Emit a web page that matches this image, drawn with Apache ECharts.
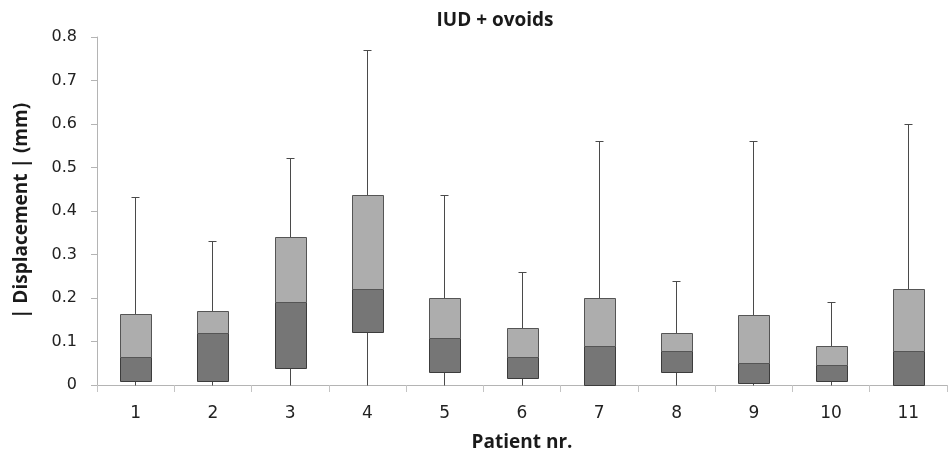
<!DOCTYPE html>
<html>
<head>
<meta charset="utf-8">
<script src="https://cdn.jsdelivr.net/npm/echarts@6/dist/echarts.min.js"></script>
<style>
  html, body { margin: 0; padding: 0; background: #fff; }
  #chart { width: 948px; height: 457px; }
</style>
</head>
<body>
<div id="chart"></div>
<script>
// Displacement summary per patient (mm)
const patients = ['1', '2', '3', '4', '5', '6', '7', '8', '9', '10', '11'];
const whiskerLow = [0, 0, 0, 0, 0, 0, 0, 0, 0, 0, 0];
const quartile1 = [0.008, 0.009, 0.038, 0.120, 0.029, 0.014, 0, 0.029, 0.004, 0.007, 0];
const medians = [0.063, 0.119, 0.189, 0.220, 0.108, 0.063, 0.089, 0.076, 0.049, 0.044, 0.078];
const quartile3 = [0.162, 0.169, 0.338, 0.435, 0.200, 0.129, 0.200, 0.119, 0.159, 0.089, 0.220];
const whiskerHigh = [0.431, 0.329, 0.520, 0.770, 0.435, 0.259, 0.559, 0.239, 0.559, 0.189, 0.600];
const yTicks = ['0', '0.1', '0.2', '0.3', '0.4', '0.5', '0.6', '0.7', '0.8'];

const LABEL_FONT = '"DejaVu Sans", sans-serif';
const HEAD_FONT = '"Open Sans", Lato, sans-serif';
const boxData = patients.map((p, i) => [i, whiskerLow[i], quartile1[i], medians[i], quartile3[i], whiskerHigh[i]]);

const crisp = v => Math.round(v - 0.5) + 0.5;

// Whisker + two-tone box (Q1..median dark, median..Q3 light)
function renderBox(params, api) {
  const i = api.value(0);
  const pLow = api.coord([i, api.value(1)]);
  const pQ1 = api.coord([i, api.value(2)]);
  const pMed = api.coord([i, api.value(3)]);
  const pQ3 = api.coord([i, api.value(4)]);
  const pHigh = api.coord([i, api.value(5)]);
  const bw = api.size([1, 0])[0] * 0.4;
  const cx = crisp(pMed[0]);
  const left = Math.round(cx - bw / 2) + 0.5;
  const right = Math.round(cx + bw / 2) + 0.5;
  const yQ1 = crisp(pQ1[1]), yMed = crisp(pMed[1]), yQ3 = crisp(pQ3[1]);
  const lineStyle = { stroke: '#4a4a4a', lineWidth: 1 };
  return {
    type: 'group',
    children: [
      { type: 'line', shape: { x1: cx, y1: crisp(pLow[1]), x2: cx, y2: crisp(pHigh[1]) }, style: lineStyle },
      { type: 'line', shape: { x1: cx - 4, y1: crisp(pHigh[1]), x2: cx + 4, y2: crisp(pHigh[1]) }, style: lineStyle },
      { type: 'rect', shape: { x: left, y: yMed, width: right - left, height: yQ1 - yMed },
        style: { fill: '#767676', stroke: '#3c3c3c', lineWidth: 1 } },
      { type: 'rect', shape: { x: left, y: yQ3, width: right - left, height: yMed - yQ3 },
        style: { fill: '#adadad', stroke: '#555555', lineWidth: 1 } }
    ]
  };
}

const chart = echarts.init(document.getElementById('chart'), null, { renderer: 'canvas' });
chart.setOption({
  animation: false,
  backgroundColor: '#ffffff',
  title: {
    text: 'IUD + ovoids',
    left: 490,
    textAlign: 'center',
    top: 6,
    textStyle: { fontFamily: HEAD_FONT, fontSize: 19, fontWeight: 'bold', color: '#1a1a1a' }
  },
  grid: { left: 97, right: 1, top: 37, bottom: 66 },
  xAxis: {
    type: 'category',
    data: patients,
    boundaryGap: true,
    name: 'Patient nr.',
    nameLocation: 'middle',
    nameGap: 48,
    nameTextStyle: { fontFamily: HEAD_FONT, fontSize: 19, fontWeight: 'bold', color: '#1a1a1a' },
    axisLine: { lineStyle: { color: '#b4b4b4', width: 1 } },
    axisTick: { show: true, length: 7, lineStyle: { color: '#c4c4c4' } },
    axisLabel: { fontFamily: LABEL_FONT, fontSize: 17, color: '#222', margin: 20 },
    splitLine: { show: false }
  },
  yAxis: {
    type: 'value',
    min: 0,
    max: 0.8,
    interval: 0.1,
    name: '| Displacement | (mm)',
    nameLocation: 'middle',
    nameRotate: 90,
    nameGap: 66,
    nameTextStyle: { fontFamily: HEAD_FONT, fontSize: 19, fontWeight: 'bold', color: '#1a1a1a' },
    axisLine: { show: true, lineStyle: { color: '#b4b4b4', width: 1 } },
    axisTick: { show: true, length: 6, lineStyle: { color: '#b4b4b4' } },
    axisLabel: {
      fontFamily: LABEL_FONT, fontSize: 16, color: '#222', margin: 20,
      formatter: (v) => yTicks[Math.round(v * 10)]
    },
    splitLine: { show: false }
  },
  series: [{
    type: 'custom',
    renderItem: renderBox,
    encode: { x: 0, y: [1, 2, 3, 4, 5] },
    data: boxData,
    z: 5
  }]
});
</script>
</body>
</html>
